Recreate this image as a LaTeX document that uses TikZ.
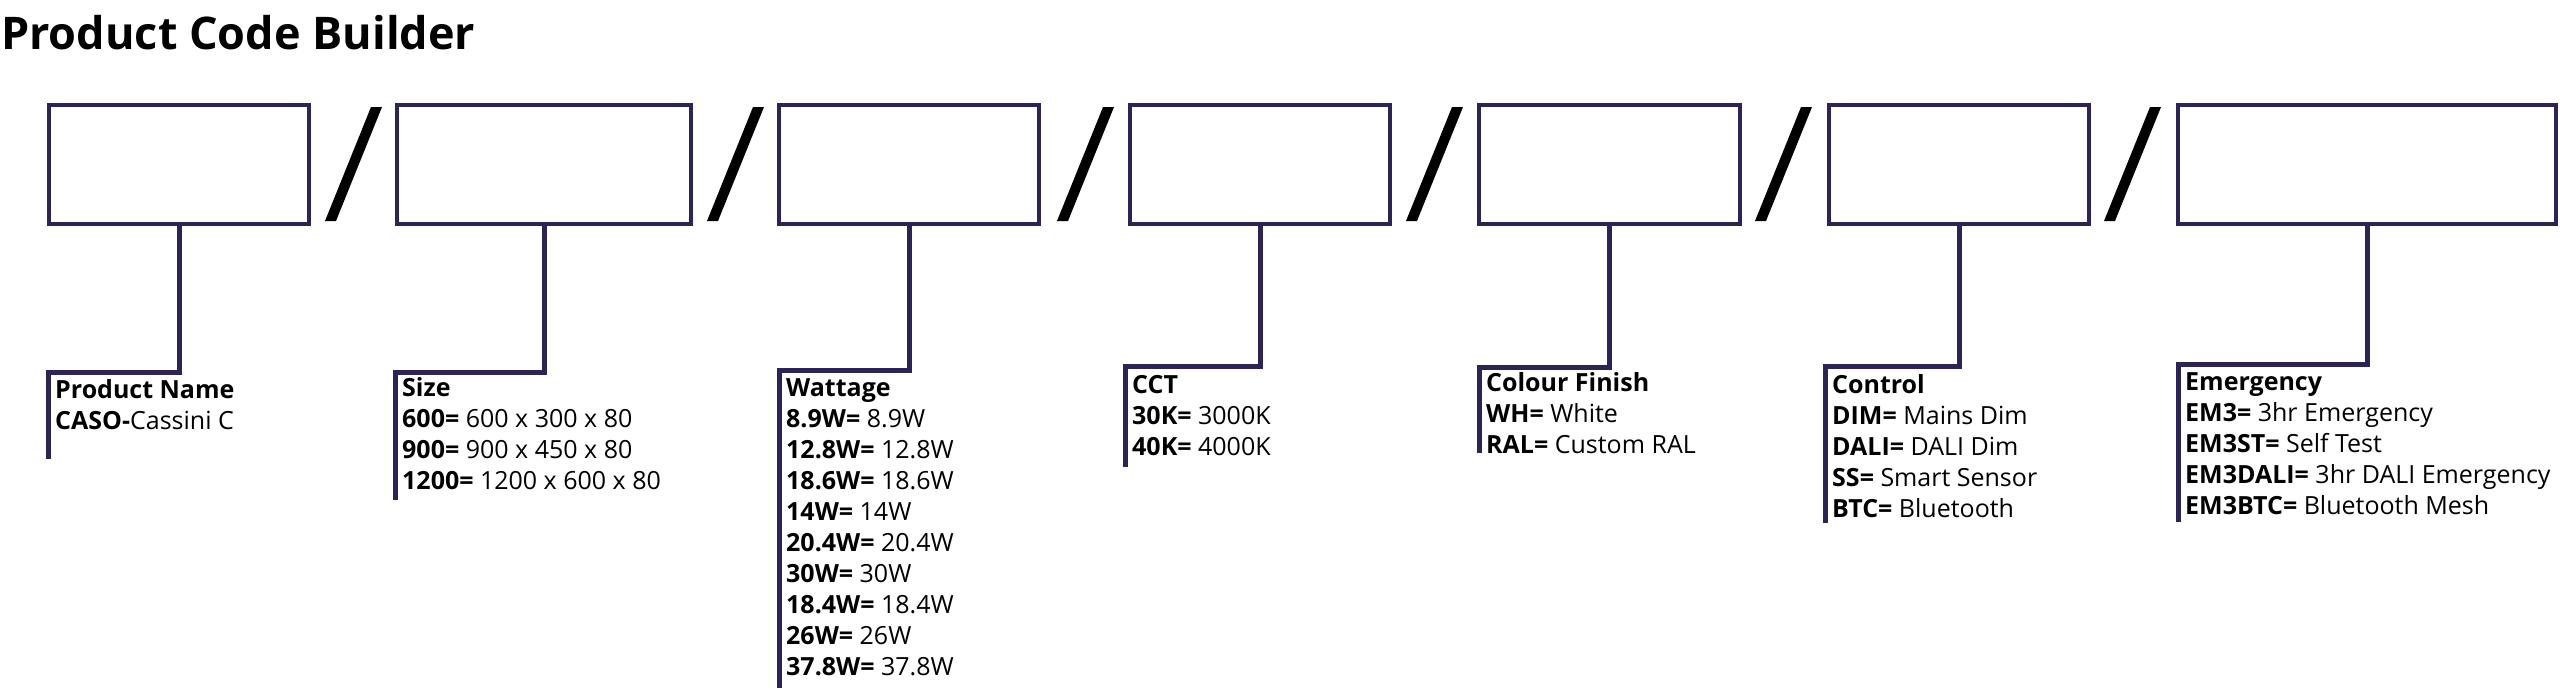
\documentclass[tikz,border=0pt]{standalone}
\usepackage{fontspec}
\setmainfont{Open Sans}
\definecolor{navy}{RGB}{43,36,86}
\newcommand{\pcitem}[2]{\textbf{#1=} #2}
\begin{document}
\begin{tikzpicture}[x=1pt,y=-1pt,
  codebox/.style={draw=navy,line width=4.3pt,minimum width=#1,minimum height=119pt,inner sep=0pt},
  conn/.style={draw=navy,line width=5pt,line join=miter},
  slashmark/.style={fill=black},
  info/.style={anchor=base west,inner sep=0pt,font=\fontsize{25}{31}\selectfont},
  titletext/.style={anchor=base west,inner sep=0pt,font=\fontsize{45}{54}\selectfont\bfseries}]
\fill[white] (0,0) rectangle (2560,693);
\node[titletext] (title) at (1,50) {Product Code Builder};
% boxes
\node[codebox=260pt] (b1) at (179,164.5) {};
\node[codebox=294pt] (b2) at (544,164.5) {};
\node[codebox=260pt] (b3) at (909,164.5) {};
\node[codebox=260pt] (b4) at (1260,164.5) {};
\node[codebox=261pt] (b5) at (1609.5,164.5) {};
\node[codebox=260pt] (b6) at (1959,164.5) {};
\node[codebox=378pt] (b7) at (2367,164.5) {};
% slashes
\foreach \sx in {325,707,1057,1406,1755,2104}
  \fill[slashmark] (\sx,221) -- (\sx+11,221) -- (\sx+57,107) -- (\sx+46,107) -- cycle;
% corner and end coordinates
\coordinate (k1) at (48,372);   \coordinate (e1) at (48,459);
\coordinate (k2) at (395,372);  \coordinate (e2) at (395,500);
\coordinate (k3) at (779,370);  \coordinate (e3) at (779,688);
\coordinate (k4) at (1125,366); \coordinate (e4) at (1125,467);
\coordinate (k5) at (1479,367); \coordinate (e5) at (1479,453);
\coordinate (k6) at (1825,366); \coordinate (e6) at (1825,523);
\coordinate (k7) at (2178,364); \coordinate (e7) at (2178,522);
\foreach \i in {1,...,7}
  \draw[conn] (b\i.south) |- (k\i) -- (e\i);
% texts
\node[info] (t1) at (55,398) {\begin{tabular}[t]{@{}l@{}}\textbf{Product Name}\\ \textbf{CASO-}Cassini C\end{tabular}};
\node[info] (t2) at (402,396) {\begin{tabular}[t]{@{}l@{}}\textbf{Size}\\ \pcitem{600}{600 x 300 x 80}\\ \pcitem{900}{900 x 450 x 80}\\ \pcitem{1200}{1200 x 600 x 80}\end{tabular}};
\node[info] (t3) at (786,396) {\begin{tabular}[t]{@{}l@{}}\textbf{Wattage}\\ \pcitem{8.9W}{8.9W}\\ \pcitem{12.8W}{12.8W}\\ \pcitem{18.6W}{18.6W}\\ \pcitem{14W}{14W}\\ \pcitem{20.4W}{20.4W}\\ \pcitem{30W}{30W}\\ \pcitem{18.4W}{18.4W}\\ \pcitem{26W}{26W}\\ \pcitem{37.8W}{37.8W}\end{tabular}};
\node[info] (t4) at (1132,393) {\begin{tabular}[t]{@{}l@{}}\textbf{CCT}\\ \pcitem{30K}{3000K}\\ \pcitem{40K}{4000K}\end{tabular}};
\node[info] (t5) at (1486,391) {\begin{tabular}[t]{@{}l@{}}\textbf{Colour Finish}\\ \pcitem{WH}{White}\\ \pcitem{RAL}{Custom RAL}\end{tabular}};
\node[info] (t6) at (1832,393) {\begin{tabular}[t]{@{}l@{}}\textbf{Control}\\ \pcitem{DIM}{Mains Dim}\\ \pcitem{DALI}{DALI Dim}\\ \pcitem{SS}{Smart Sensor}\\ \pcitem{BTC}{Bluetooth}\end{tabular}};
\node[info] (t7) at (2185,390) {\begin{tabular}[t]{@{}l@{}}\textbf{Emergency}\\ \pcitem{EM3}{3hr Emergency}\\ \pcitem{EM3ST}{Self Test}\\ \pcitem{EM3DALI}{3hr DALI Emergency}\\ \pcitem{EM3BTC}{Bluetooth Mesh}\end{tabular}};
\end{tikzpicture}
\end{document}
